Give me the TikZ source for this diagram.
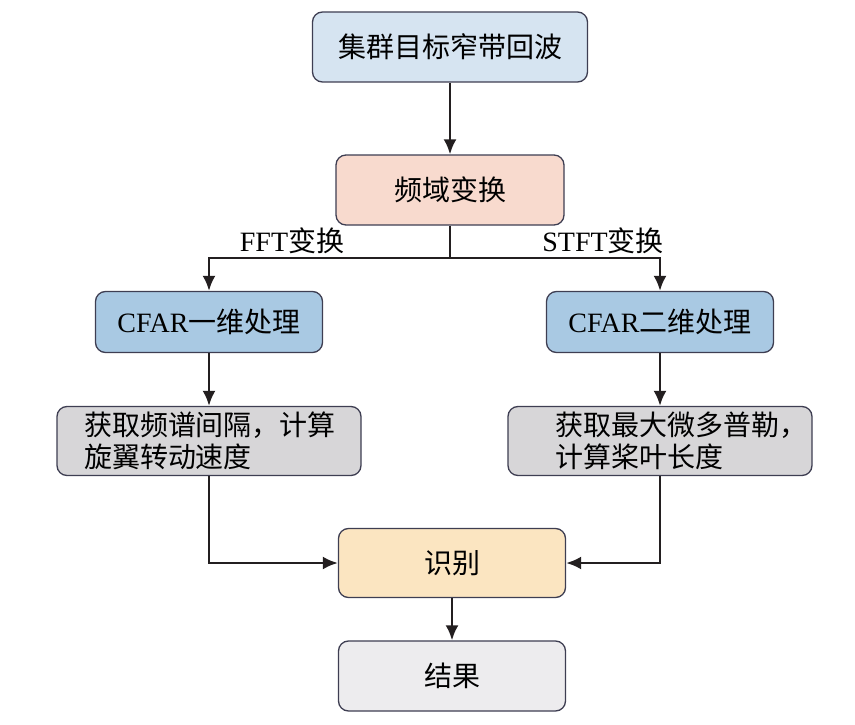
\documentclass[tikz,border=0pt]{standalone}
\usepackage{fontspec}
\setmainfont{Liberation Serif}
\newfontfamily\cjk{Noto Sans CJK SC}
\usetikzlibrary{positioning}
\usetikzlibrary{arrows.meta}
\definecolor{boxline}{HTML}{3E3E52}
\definecolor{flowline}{HTML}{231F20}
\definecolor{fillsrc}{HTML}{D6E4F1}
\definecolor{fillfft}{HTML}{F8DACE}
\definecolor{fillcfar}{HTML}{A9C9E3}
\definecolor{fillcalc}{HTML}{D7D6D8}
\definecolor{fillrec}{HTML}{FBE5C1}
\definecolor{fillres}{HTML}{EDECEE}
\tikzset{
    mybox/.style = {rectangle, rounded corners=10pt, draw=boxline, line width=1.3pt, align=center, font=\fontsize{28}{32}\selectfont},
    boxsrc/.style = {mybox, fill=fillsrc, minimum width=275pt, minimum height=70pt},
    boxfft/.style = {mybox, fill=fillfft, minimum width=228pt, minimum height=70pt},
    boxcfar/.style = {mybox, fill=fillcfar, minimum width=227pt, minimum height=61pt},
    boxcalc/.style = {mybox, fill=fillcalc, minimum width=304pt, minimum height=69pt, align=left, text width=250pt},
    boxrec/.style = {mybox, fill=fillrec, minimum width=227pt, minimum height=69pt},
    boxres/.style = {mybox, fill=fillres, minimum width=227pt, minimum height=70pt},
    edgen/.style = {-{Latex[length=15pt,width=13pt]}, line width=2.5pt, draw=flowline},
    edgel/.style = {line width=2.5pt, draw=flowline},
    lab/.style = {font=\fontsize{28}{32}\selectfont, inner sep=0pt}
}
\begin{document}
\begin{tikzpicture}[x=1pt,y=-1pt]
\useasboundingbox (0,0) rectangle (855,725);
%
\node[boxsrc] at (450, 47) (src) {\cjk 集群目标窄带回波};
\node[boxfft] at (450,190) (fft) {\cjk 频域变换};
\node[boxcfar] at (209,322) (cfara) {CFAR{\cjk 一维处理}};
\node[boxcfar] at (660,322) (cfarb) {CFAR{\cjk 二维处理}};
\node[boxcalc] at (209,441) (calca) {\cjk 获取频谱间隔，计算\\旋翼转动速度};
\node[boxcalc] at (660,441) (calcb) {\cjk \hspace*{20pt}获取最大微多普勒，\\\hspace*{20pt}计算桨叶长度};
\node[boxrec] at (452,563) (rec) {\cjk 识别};
\node[boxres] at (452,676) (res) {\cjk 结果};
\coordinate (split) at (450,258);
\node[lab] at (292,241) (fftlab) {FFT{\cjk 变换}};
\node[lab] at (603,241) (stftlab) {STFT{\cjk 变换}};
%
\draw[edgen] (src) -- (fft);
\draw[edgel] (fft) -- (split);
\draw[edgen] (split) -| (cfara);
\draw[edgen] (split) -| (cfarb);
\draw[edgen] (cfara) -- (calca);
\draw[edgen] (cfarb) -- (calcb);
\draw[edgen] (calca) |- (rec);
\draw[edgen] (calcb) |- (rec);
\draw[edgen] (rec) -- (res);
\end{tikzpicture}
\end{document}
